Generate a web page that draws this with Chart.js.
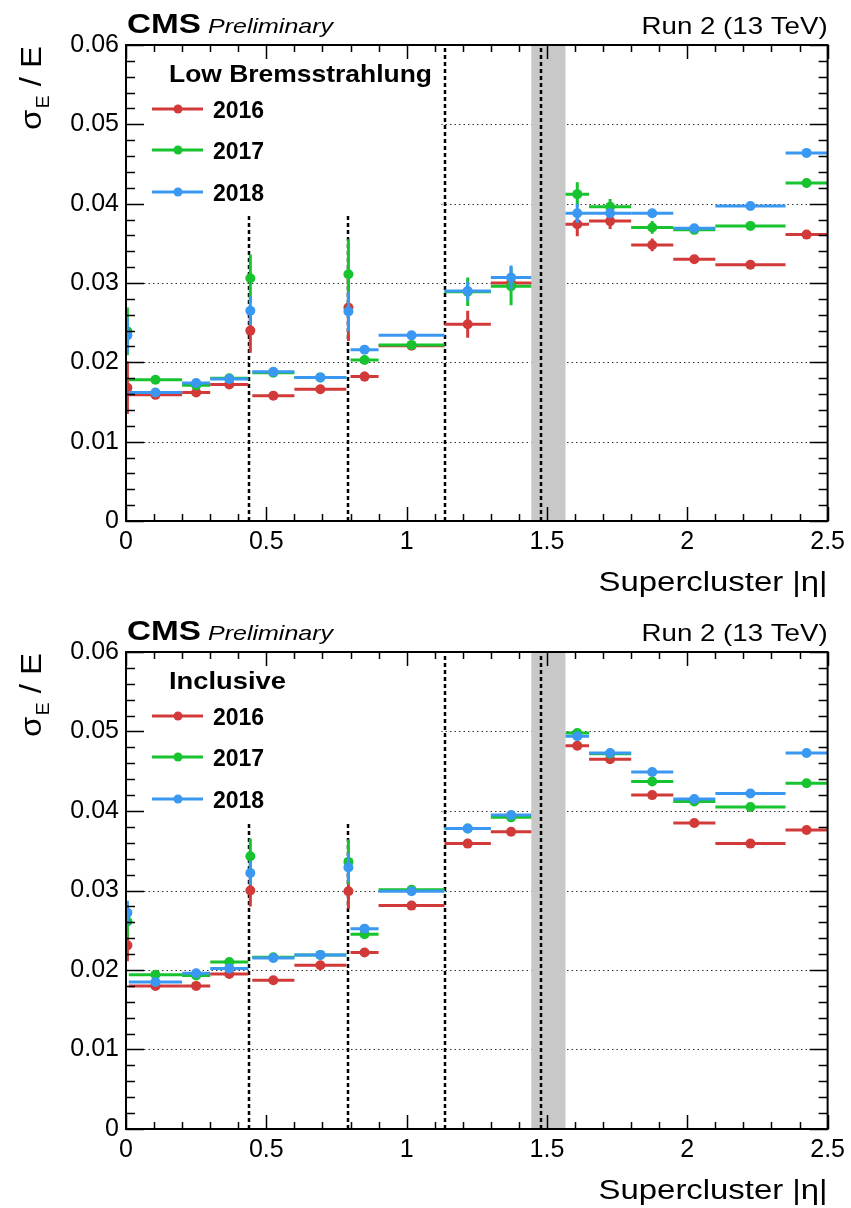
<!DOCTYPE html>
<html>
<head>
<meta charset="utf-8">
<script src="https://cdn.jsdelivr.net/npm/chart.js@4.4.1/dist/chart.umd.min.js"></script>
<style>
  body { margin: 0; background: #fff; }
  .pane { position: absolute; left: 0; width: 851px; height: 604px; }
</style>
</head>
<body>
<div class="pane" style="top:0"><canvas id="lowBrem" width="851" height="604"></canvas></div>
<div class="pane" style="top:604px"><canvas id="inclusive" width="851" height="604"></canvas></div>
<script>
// eta bins (lower / upper edge)
var binLo = [0, 0.01, 0.2, 0.3, 0.436, 0.45, 0.6, 0.785, 0.8, 0.9, 1.135, 1.3, 1.566, 1.65, 1.8, 1.95, 2.1, 2.35];
var binHi = [0.01, 0.2, 0.3, 0.436, 0.45, 0.6, 0.785, 0.8, 0.9, 1.135, 1.3, 1.4442, 1.65, 1.8, 1.95, 2.1, 2.35, 2.5];

var years = ['2016', '2017', '2018'];
var colors = ['#d23a3a', '#17c42f', '#3a98f2'];

// Low bremsstrahlung
var lowBrem2016 = [0.0168, 0.0159, 0.0162, 0.0172, 0.0240, 0.0158, 0.0166, 0.0269, 0.0182, 0.0221, 0.0248, 0.0300, 0.0374, 0.0378, 0.0348, 0.0330, 0.0323, 0.0361];
var lowBrem2017 = [0.0239, 0.0178, 0.0171, 0.0180, 0.0306, 0.0187, 0.0181, 0.0311, 0.0203, 0.0222, 0.0289, 0.0296, 0.0412, 0.0396, 0.0370, 0.0367, 0.0372, 0.0426];
var lowBrem2018 = [0.0234, 0.0162, 0.0174, 0.0179, 0.0265, 0.0188, 0.0181, 0.0264, 0.0216, 0.0234, 0.0290, 0.0307, 0.0388, 0.0388, 0.0388, 0.0369, 0.0397, 0.0464];
var lowBremErr2016 = [0.0033, 0.0003, 0.0004, 0.0003, 0.0028, 0.0003, 0.0003, 0.0042, 0.0006, 0.0004, 0.0017, 0.0010, 0.0015, 0.0010, 0.0008, 0.0005, 0.0003, 0.0005];
var lowBremErr2017 = [0.0030, 0.0003, 0.0004, 0.0003, 0.0030, 0.0003, 0.0003, 0.0044, 0.0005, 0.0004, 0.0018, 0.0024, 0.0015, 0.0010, 0.0008, 0.0005, 0.0003, 0.0006];
var lowBremErr2018 = [0.0022, 0.0003, 0.0003, 0.0003, 0.0018, 0.0002, 0.0002, 0.0025, 0.0003, 0.0003, 0.0012, 0.0015, 0.0012, 0.0006, 0.0004, 0.0003, 0.0002, 0.0003];

// Inclusive
var incl2016 = [0.0231, 0.0180, 0.0180, 0.0195, 0.0300, 0.0187, 0.0206, 0.0299, 0.0222, 0.0281, 0.0359, 0.0374, 0.0482, 0.0465, 0.0420, 0.0385, 0.0359, 0.0376];
var incl2017 = [0.0261, 0.0194, 0.0193, 0.0210, 0.0343, 0.0216, 0.0219, 0.0336, 0.0245, 0.0301, 0.0378, 0.0392, 0.0498, 0.0472, 0.0437, 0.0412, 0.0405, 0.0435];
var incl2018 = [0.0272, 0.0185, 0.0196, 0.0202, 0.0322, 0.0215, 0.0219, 0.0329, 0.0252, 0.0299, 0.0378, 0.0395, 0.0494, 0.0473, 0.0449, 0.0415, 0.0422, 0.0473];
var inclErr2016 = [0.0020, 0.0002, 0.0002, 0.0002, 0.0020, 0.0002, 0.0002, 0.0022, 0.0003, 0.0002, 0.0003, 0.0003, 0.0004, 0.0003, 0.0003, 0.0002, 0.0002, 0.0004];
var inclErr2017 = [0.0020, 0.0002, 0.0002, 0.0002, 0.0022, 0.0002, 0.0002, 0.0028, 0.0003, 0.0002, 0.0003, 0.0003, 0.0004, 0.0003, 0.0003, 0.0002, 0.0002, 0.0004];
var inclErr2018 = [0.0015, 0.0002, 0.0002, 0.0002, 0.0015, 0.0002, 0.0002, 0.0018, 0.0003, 0.0002, 0.0003, 0.0003, 0.0003, 0.0002, 0.0002, 0.0002, 0.0002, 0.0003];

var moduleEdges = [0.44, 0.79, 1.135, 1.479];
var gapLo = 1.4442, gapHi = 1.566;
var FONT = '"Liberation Sans", Arial, sans-serif';

function fitText(ctx, str, x, y, font, width, align) {
    ctx.font = font;
    var w = ctx.measureText(str).width;
    var s = width ? width / w : 1;
    ctx.save();
    ctx.translate(x, y);
    ctx.scale(s, 1);
    ctx.textAlign = 'left';
    ctx.textBaseline = 'alphabetic';
    ctx.fillText(str, align === 'right' ? -w : 0, 0);
    ctx.restore();
}

var cmsPlugin = {
    id: 'cmsDecor',
    beforeDatasetsDraw: function(chart) {
        var ctx = chart.ctx, a = chart.chartArea, x = chart.scales.x, y = chart.scales.y;
        ctx.save();
        // horizontal dotted grid
        ctx.strokeStyle = '#333';
        ctx.lineWidth = 1;
        ctx.setLineDash([1.5, 3]);
        for (var k = 1; k <= 5; k++) {
            var py = Math.round(y.getPixelForValue(k * 0.01)) + 0.5;
            ctx.beginPath(); ctx.moveTo(a.left, py); ctx.lineTo(a.right, py); ctx.stroke();
        }
        // barrel-endcap gap
        ctx.fillStyle = '#c8c8c8';
        ctx.fillRect(x.getPixelForValue(gapLo), a.top, x.getPixelForValue(gapHi) - x.getPixelForValue(gapLo), a.bottom - a.top);
        // module boundaries
        ctx.strokeStyle = '#000';
        ctx.lineWidth = 2.5;
        ctx.setLineDash([4, 3]);
        moduleEdges.forEach(function(v) {
            var px = Math.round(x.getPixelForValue(v));
            ctx.beginPath(); ctx.moveTo(px, a.bottom); ctx.lineTo(px, a.top); ctx.stroke();
        });
        ctx.setLineDash([]);
        // legend box
        var o = chart.options.plugins.cmsDecor;
        ctx.fillStyle = '#fff';
        ctx.fillRect(a.left + 1, a.top + 1, x.getPixelForValue(1.12) - a.left, y.getPixelForValue(0.0388) - a.top);
        ctx.fillStyle = '#000';
        fitText(ctx, o.header, 169, a.top + 37, 'bold 24px ' + FONT, o.headerWidth);
        var rows = [64, 105, 147];
        years.forEach(function(yr, i) {
            var cy = a.top + rows[i];
            ctx.strokeStyle = colors[i];
            ctx.lineWidth = 3;
            ctx.beginPath(); ctx.moveTo(152, cy); ctx.lineTo(203, cy); ctx.stroke();
            ctx.fillStyle = colors[i];
            ctx.beginPath(); ctx.arc(178, cy, 4.5, 0, Math.PI * 2); ctx.fill();
            ctx.fillStyle = '#000';
            fitText(ctx, yr, 213, cy + 8.5, 'bold 23px ' + FONT);
        });
        ctx.restore();
    },
    beforeDatasetDraw: function(chart, args) {
        var ds = chart.data.datasets[args.index];
        var ctx = chart.ctx, x = chart.scales.x, y = chart.scales.y;
        ctx.save();
        ctx.strokeStyle = ds.backgroundColor;
        ctx.lineWidth = 3;
        ds.values.forEach(function(v, i) {
            var py = y.getPixelForValue(v);
            var px = x.getPixelForValue((binLo[i] + binHi[i]) / 2);
            ctx.beginPath();
            ctx.moveTo(x.getPixelForValue(binLo[i]), py);
            ctx.lineTo(x.getPixelForValue(binHi[i]), py);
            ctx.moveTo(px, y.getPixelForValue(v - ds.errors[i]));
            ctx.lineTo(px, y.getPixelForValue(v + ds.errors[i]));
            ctx.stroke();
        });
        ctx.restore();
    },
    afterDraw: function(chart) {
        var ctx = chart.ctx, a = chart.chartArea, x = chart.scales.x, y = chart.scales.y;
        ctx.save();
        ctx.strokeStyle = '#000';
        ctx.lineWidth = 1.5;
        ctx.beginPath();
        for (var k = 0; k <= 30; k++) {
            var py = Math.round(y.getPixelForValue(k * 0.002)) + 0.5;
            var len = k % 5 === 0 ? 18 : 9;
            ctx.moveTo(a.left, py); ctx.lineTo(a.left + len, py);
            ctx.moveTo(a.right, py); ctx.lineTo(a.right - len, py);
        }
        for (var j = 0; j <= 25; j++) {
            var px = Math.round(x.getPixelForValue(j * 0.1)) + 0.5;
            var l2 = j % 5 === 0 ? 14 : 7;
            ctx.moveTo(px, a.bottom); ctx.lineTo(px, a.bottom - l2);
            ctx.moveTo(px, a.top); ctx.lineTo(px, a.top + l2);
        }
        ctx.stroke();
        ctx.lineWidth = 2;
        ctx.strokeRect(a.left, a.top, a.right - a.left, a.bottom - a.top);

        ctx.fillStyle = '#000';
        fitText(ctx, 'CMS', 127, a.top - 12, 'bold 28px ' + FONT, 74);
        fitText(ctx, 'Preliminary', 208, a.top - 12, 'italic 21px ' + FONT, 125);
        fitText(ctx, 'Run 2 (13 TeV)', a.right, a.top - 11, '24px ' + FONT, 186, 'right');
        fitText(ctx, 'Supercluster |\u03b7|', a.right, a.bottom + 70, '27px ' + FONT, 229, 'right');

        // y title: sigma_E / E, rotated
        ctx.translate(41, a.top + 85);
        ctx.rotate(-Math.PI / 2);
        ctx.font = '30px ' + FONT;
        var w1 = ctx.measureText('\u03c3').width;
        ctx.font = '18px ' + FONT;
        var w2 = ctx.measureText('E').width;
        ctx.font = '30px ' + FONT;
        var w3 = ctx.measureText(' / E').width;
        var s = 84 / (w1 + w2 + w3 + 1);
        ctx.scale(s, 1);
        ctx.fillText('\u03c3', 0, 0);
        ctx.font = '18px ' + FONT;
        ctx.fillText('E', w1 + 1, 8);
        ctx.font = '30px ' + FONT;
        ctx.fillText(' / E', w1 + 1 + w2, 0);
        ctx.restore();
    }
};

function makeChart(id, header, headerWidth, series, errors, top, xHeight) {
    var ctx = document.getElementById(id).getContext('2d');
    var order = [3, 2, 1];
    return new Chart(ctx, {
        type: 'scatter',
        data: {
            datasets: series.map(function(vals, i) {
                return {
                    label: years[i],
                    values: vals,
                    errors: errors[i],
                    data: vals.map(function(v, k) { return { x: (binLo[k] + binHi[k]) / 2, y: v }; }),
                    backgroundColor: colors[i],
                    borderWidth: 0,
                    pointRadius: 5,
                    order: order[i]
                };
            })
        },
        options: {
            responsive: false,
            animation: false,
            devicePixelRatio: 1,
            layout: { padding: { left: 0, top: top, right: 23, bottom: 0 } },
            plugins: {
                legend: { display: false },
                tooltip: { enabled: false },
                cmsDecor: { header: header, headerWidth: headerWidth }
            },
            scales: {
                x: {
                    type: 'linear', min: 0, max: 2.5,
                    grid: { display: false, drawTicks: false },
                    border: { display: false },
                    afterFit: function(scale) { scale.height = xHeight; },
                    ticks: {
                        stepSize: 0.5, autoSkip: false, maxRotation: 0, padding: 6,
                        color: '#000', font: { family: FONT, size: 25 },
                        callback: function(v) { return String(+v.toFixed(1)); }
                    }
                },
                y: {
                    type: 'linear', min: 0, max: 0.06,
                    grid: { display: false, drawTicks: false },
                    border: { display: false },
                    afterFit: function(scale) { scale.width = 126; },
                    ticks: {
                        stepSize: 0.01, autoSkip: false, padding: 7,
                        color: '#000', font: { family: FONT, size: 25 },
                        callback: function(v) { return v === 0 ? '0' : v.toFixed(2); }
                    }
                }
            }
        },
        plugins: [cmsPlugin]
    });
}

makeChart('lowBrem', 'Low Bremsstrahlung', 263,
    [lowBrem2016, lowBrem2017, lowBrem2018],
    [lowBremErr2016, lowBremErr2017, lowBremErr2018], 45, 83);
makeChart('inclusive', 'Inclusive', 117,
    [incl2016, incl2017, incl2018],
    [inclErr2016, inclErr2017, inclErr2018], 48, 79);
</script>
</body>
</html>
